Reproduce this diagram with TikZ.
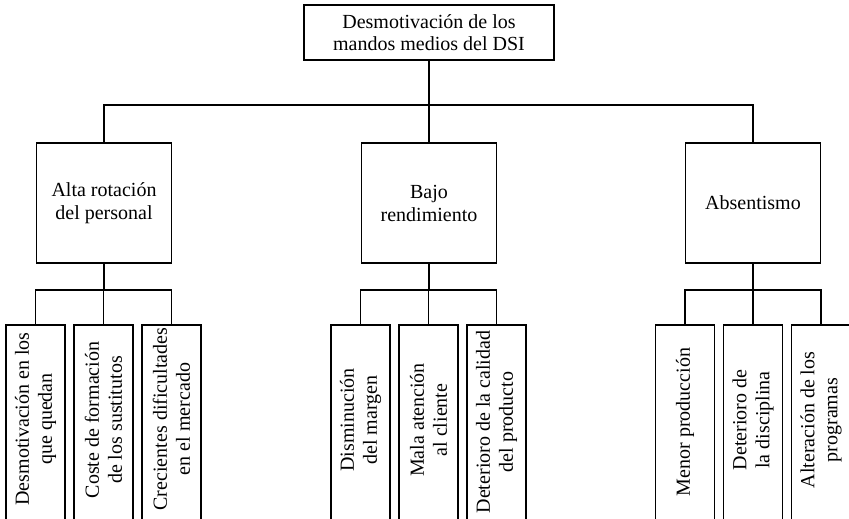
\documentclass[tikz,border=0pt]{standalone}
\usepackage{fontspec}
\setmainfont{Liberation Serif}
\begin{document}
\begin{tikzpicture}[x=1pt,y=-1pt,
  txt/.style={font=\fontsize{20}{23}\selectfont,align=center,inner sep=0pt},
  topbox/.style={draw,line width=1.8pt,minimum width=250pt,minimum height=55pt,inner sep=0pt,txt,font=\fontsize{20}{21.5}\selectfont},
  midbox/.style={draw,line width=1.3pt,minimum width=135pt,minimum height=120pt,inner sep=0pt,txt},
  leafbox/.style={draw,line width=1.3pt,minimum width=59pt,minimum height=210pt,inner sep=0pt},
  leaftxt/.style={txt,rotate=90},
  conn/.style={line width=1.1pt}]
\useasboundingbox (0,0) rectangle (849,519);
\clip (0,0) rectangle (849,519);
% top
\node[topbox] (top) at (429,32.5) {Desmotivación de los\\mandos medios del DSI};
% level 2
\node[midbox] (m1) at (104,203) {Alta rotación\\del personal};
\node[midbox] (m2) at (429,203) {Bajo\\rendimiento};
\node[midbox] (m3) at (753,203) {Absentismo};
% leaves boxes
\node[leafbox] (c11) at (35.5,430) {};
\node[leafbox] (c12) at (103.5,430) {};
\node[leafbox] (c13) at (171.5,430) {};
\node[leafbox] (c21) at (360.5,430) {};
\node[leafbox] (c22) at (428.5,430) {};
\node[leafbox] (c23) at (496.5,430) {};
\node[leafbox] (c31) at (685,430) {};
\node[leafbox] (c32) at (753,430) {};
\node[leafbox] (c33) at (821,430) {};
% leaf texts
\node[leaftxt] (t11) at (35.5,419) {Desmotivación en los\\que quedan};
\node[leaftxt] (t12) at (103.5,420) {Coste de formación\\de los sustitutos};
\node[leaftxt] (t13) at (171.5,419) {Crecientes dificultades\\en el mercado};
\node[leaftxt] (t21) at (360.5,420) {Disminución\\del margen};
\node[leaftxt] (t22) at (428.5,420) {Mala atención\\al cliente};
\node[leaftxt] (t23) at (496.5,422) {Deterioro de la calidad\\del producto};
\node[leaftxt] (t31) at (685,422) {Menor producción};
\node[leaftxt] (t32) at (753,420) {Deterioro de\\la disciplina};
\node[leaftxt] (t33) at (821,420) {Alteración de los\\programas};
% bar coordinates
\coordinate (b0) at (429,105);
\coordinate (b1) at (104,290);
\coordinate (b2) at (429,290);
\coordinate (b3) at (753,290);
% connectors
\draw[conn] (top.south) -- (b0);
\draw[conn] (m1.north) |- (b0) -| (m3.north);
\draw[conn] (m2.north) -- (m2.north |- b0);
\draw[conn] (m1.south) -- (b1);
\draw[conn] (c11.north) |- (b1) -| (c13.north);
\draw[conn] (c12.north) -- (c12.north |- b1);
\draw[conn] (m2.south) -- (b2);
\draw[conn] (c21.north) |- (b2) -| (c23.north);
\draw[conn] (c22.north) -- (c22.north |- b2);
\draw[conn] (m3.south) -- (b3);
\draw[conn] (c31.north) |- (b3) -| (c33.north);
\draw[conn] (c32.north) -- (c32.north |- b3);
\end{tikzpicture}
\end{document}
